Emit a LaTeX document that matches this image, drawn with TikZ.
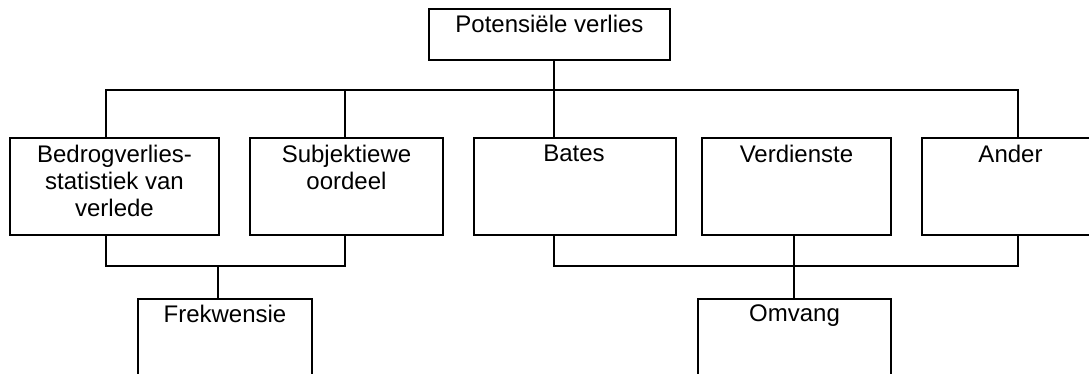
\documentclass[tikz,border=0pt]{standalone}
\usepackage{fontspec}
\setmainfont{Liberation Sans}
\begin{document}
\begin{tikzpicture}[x=1pt,y=-1pt,
  box/.style={draw=black, line width=2pt, anchor=north west, inner sep=0pt,
    minimum height=#1},
  box/.default=97pt,
  lbl/.style={anchor=north, inner sep=0pt, align=center,
    font=\fontsize{24}{27}\selectfont},
  wire/.style={draw=black, line width=2pt}]
  % page frame and white paper
  \path[use as bounding box, clip] (0,0) rectangle (1089,373);
  \fill[white] (0,0) rectangle (1089,373);

  % boxes
  \node[box=51pt, minimum width=241pt] (top) at (428,8) {};
  \node[box, minimum width=209pt] (b1) at (9,137) {};
  \node[box, minimum width=193pt] (b2) at (249,137) {};
  \node[box, minimum width=202pt] (b3) at (473,137) {};
  \node[box, minimum width=189pt] (b4) at (701,137) {};
  \node[box, minimum width=177pt] (b5) at (921,137) {};
  \node[box=100pt, minimum width=174pt] (fre) at (137,298) {};
  \node[box=100pt, minimum width=193pt] (omv) at (697,298) {};

  % labels, hung from the top of each box
  \node[lbl] (topt) at ([yshift=-7pt]top.north) {Potensiële verlies};
  \node[lbl] (b1t) at ([yshift=-8pt]b1.north) {Bedrogverlies-\\statistiek van\\verlede};
  \node[lbl] (b2t) at ([yshift=-8pt]b2.north) {Subjektiewe\\oordeel};
  \node[lbl] (b3t) at ([xshift=-1pt,yshift=-8pt]b3.north) {Bates};
  \node[lbl] (b4t) at ([yshift=-8pt]b4.north) {Verdienste};
  \node[lbl] (b5t) at ([yshift=-8pt]b5.north) {Ander};
  \node[lbl] (fret) at ([yshift=-6.5pt]fre.north) {Frekwensie};
  \node[lbl] (omvt) at ([yshift=-6.5pt]omv.north) {Omvang};

  % junction points on the buses
  \coordinate (tm) at (554,90);
  \coordinate (t1) at (106,90);
  \coordinate (t2) at (345,90);
  \coordinate (t5) at (1018,90);
  \coordinate (l1) at (106,266);
  \coordinate (l2) at (345,266);
  \coordinate (lf) at (218,266);
  \coordinate (r3) at (554,266);
  \coordinate (rv) at (794,266);
  \coordinate (r5) at (1018,266);

  % upper tree
  \draw[wire] (top.south -| tm) -- (b3.north -| tm);
  \draw[wire] (b1.north -| t1) |- (t5) -- (b5.north -| t5);
  \draw[wire] (t2) -- (b2.north -| t2);

  % frequency branch
  \draw[wire] (b1.south -| l1) |- (l2) -- (b2.south -| l2);
  \draw[wire] (lf) -- (fre.north -| lf);

  % extent branch
  \draw[wire] (b3.south -| r3) |- (r5) -- (b5.south -| r5);
  \draw[wire] (b4.south -| rv) -- (rv) -- (omv.north -| rv);
\end{tikzpicture}
\end{document}
